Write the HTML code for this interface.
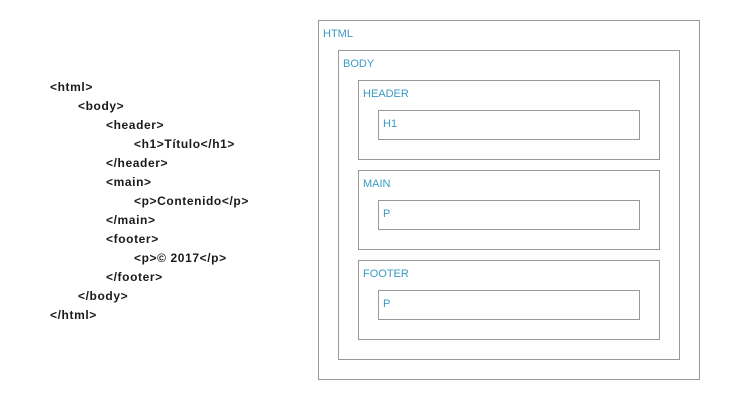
<!DOCTYPE html>
<html><head><style>
body{margin:0;width:750px;height:400px;background:#fff;position:relative;overflow:hidden;font-family:"Liberation Sans",sans-serif}
.c{position:absolute;font-size:12px;font-weight:bold;color:#1a1a1a;line-height:19px;white-space:nowrap;letter-spacing:0.6px}
.b{position:absolute;border:1px solid #999;box-sizing:border-box}
.l{position:absolute;font-size:11px;color:#3a9bc4;white-space:nowrap}
</style></head><body>
<div class="c" style="left:50px;top:78px">&lt;html&gt;</div>
<div class="c" style="left:78px;top:97px">&lt;body&gt;</div>
<div class="c" style="left:106px;top:116px">&lt;header&gt;</div>
<div class="c" style="left:134px;top:135px">&lt;h1&gt;Título&lt;/h1&gt;</div>
<div class="c" style="left:106px;top:154px">&lt;/header&gt;</div>
<div class="c" style="left:106px;top:173px">&lt;main&gt;</div>
<div class="c" style="left:134px;top:192px">&lt;p&gt;Contenido&lt;/p&gt;</div>
<div class="c" style="left:106px;top:211px">&lt;/main&gt;</div>
<div class="c" style="left:106px;top:230px">&lt;footer&gt;</div>
<div class="c" style="left:134px;top:249px">&lt;p&gt;© 2017&lt;/p&gt;</div>
<div class="c" style="left:106px;top:268px">&lt;/footer&gt;</div>
<div class="c" style="left:78px;top:287px">&lt;/body&gt;</div>
<div class="c" style="left:50px;top:306px">&lt;/html&gt;</div>

<div class="b" style="left:318px;top:20px;width:382px;height:360px"></div>
<div class="l" style="left:323px;top:28px">HTML</div>
<div class="b" style="left:338px;top:50px;width:342px;height:310px"></div>
<div class="l" style="left:343px;top:58px">BODY</div>

<div class="b" style="left:358px;top:80px;width:302px;height:80px"></div>
<div class="l" style="left:363px;top:88px">HEADER</div>
<div class="b" style="left:378px;top:110px;width:262px;height:30px"></div>
<div class="l" style="left:383px;top:118px">H1</div>

<div class="b" style="left:358px;top:170px;width:302px;height:80px"></div>
<div class="l" style="left:363px;top:178px">MAIN</div>
<div class="b" style="left:378px;top:200px;width:262px;height:30px"></div>
<div class="l" style="left:383px;top:208px">P</div>

<div class="b" style="left:358px;top:260px;width:302px;height:80px"></div>
<div class="l" style="left:363px;top:268px">FOOTER</div>
<div class="b" style="left:378px;top:290px;width:262px;height:30px"></div>
<div class="l" style="left:383px;top:298px">P</div>
</body></html>
